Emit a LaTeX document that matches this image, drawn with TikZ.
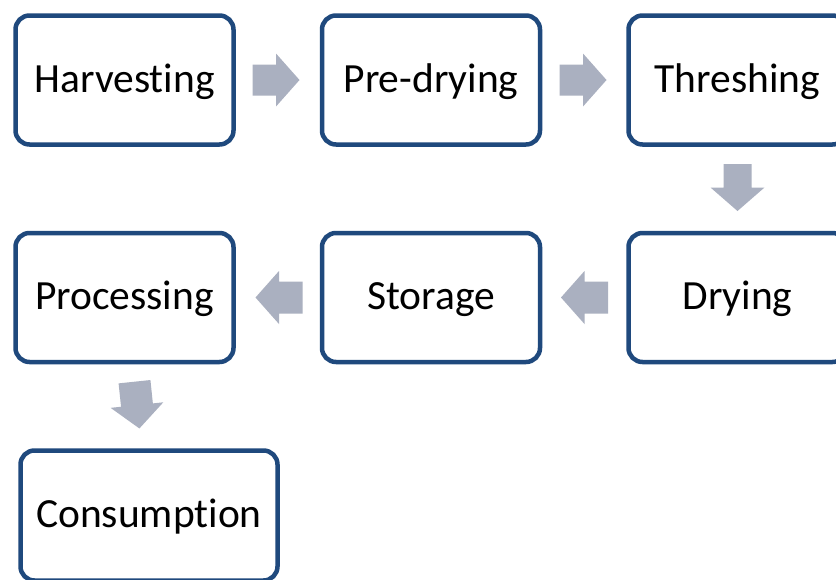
\documentclass[tikz,border=0pt]{standalone}
\usepackage{fontspec}
\setmainfont{Carlito}[RawFeature={-liga;-clig;-calt;-dlig}]
\usetikzlibrary{calc}
\definecolor{boxblue}{RGB}{31,73,125}
\definecolor{arrowgrey}{RGB}{170,176,192}
\tikzset{
  stepbox/.style={draw=boxblue, line width=4.5pt, rounded corners=14pt, fill=white,
    minimum width=218pt, minimum height=129pt, inner sep=0pt, outer sep=0pt,
    font=\fontsize{41.5pt}{48pt}\selectfont, text height=32pt, text depth=8pt, text=black},
  arrowfill/.style={fill=arrowgrey, draw=none}
}
\newcommand\flowarrow[4]{%
  \fill[arrowfill, shift={#1}, rotate=#2] (0,-#3) -- (23.5,-#3) -- (23.5,-#4) -- (47,0) -- (23.5,#4) -- (23.5,#3) -- (0,#3) -- cycle;}
\begin{document}
\begin{tikzpicture}[x=1pt,y=-1pt]
\useasboundingbox (0,0) rectangle (836,579);
\clip (0,0) rectangle (836,579);
\fill[white] (0,0) rectangle (836,579);
\node[stepbox] (H) at (124.5,80) {Harvesting};
\node[stepbox] (P) at (431,80) {Pre-drying};
\node[stepbox] (T) at (737.5,80) {Threshing};
\node[stepbox] (D) at (737.5,297.5) {Drying};
\node[stepbox] (S) at (431,297.5) {Storage};
\node[stepbox] (R) at (124.5,297.5) {Processing};
\node[stepbox, minimum width=257pt, minimum height=130pt] (C) at (149,515.5) {Consumption};
\flowarrow{($(H.east)+(19,0)$)}{0}{15.5}{26.5}
\flowarrow{($(P.east)+(19.5,0)$)}{0}{15.5}{26.5}
\flowarrow{($(T.south)+(0,19.5)$)}{-90}{14}{27}
\flowarrow{($(D.west)+(-20.5,0)$)}{180}{16}{26.5}
\flowarrow{($(S.west)+(-19.5,0)$)}{180}{16}{26.5}
\flowarrow{($(R.south)+(10,19.7)$)}{-84}{16}{26.5}
\end{tikzpicture}
\end{document}
